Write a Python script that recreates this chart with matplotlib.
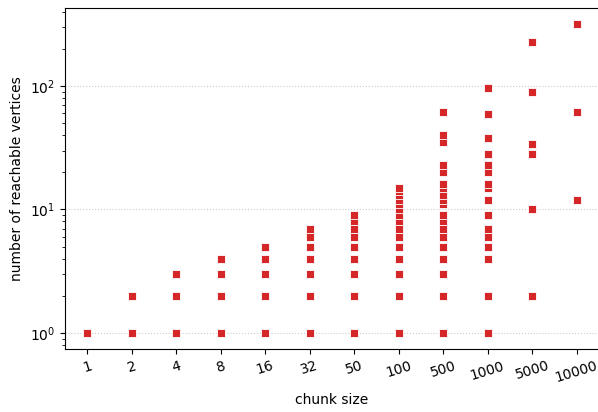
#!/usr/bin/env python3
# Reachable vertices per chunk size (log y, categorical x)

import numpy as np
import matplotlib as mpl
mpl.use('Agg')
import matplotlib.pyplot as plt

chunk_sizes = ['1', '2', '4', '8', '16', '32', '50', '100', '500', '1000', '5000', '10000']

reach_1 = [1]
reach_2 = [1, 2]
reach_4 = [1, 2, 3]
reach_8 = [1, 2, 3, 4]
reach_16 = [1, 2, 3, 4, 5]
reach_32 = [1, 2, 3, 4, 5, 6, 7]
reach_50 = [1, 2, 3, 4, 5, 6, 7, 8, 9]
reach_100 = [1, 2, 3, 4, 5, 6, 7, 8, 9, 10, 11, 12, 13, 14, 15]
reach_500 = [1, 2, 3, 4, 5, 6, 7, 8, 9, 11, 12, 13, 15, 16, 20, 23, 35, 40, 61]
reach_1000 = [1, 2, 4, 5, 6, 7, 9, 12, 15, 16, 20, 23, 28, 38, 59, 96]
reach_5000 = [2, 10, 28, 34, 89, 228]
reach_10000 = [12, 61, 318]

reach = [reach_1, reach_2, reach_4, reach_8, reach_16, reach_32, reach_50,
         reach_100, reach_500, reach_1000, reach_5000, reach_10000]

W, H = 598, 412
fig = plt.figure(figsize=(W/100, H/100), dpi=100)
# axes box in pixels: left 65, top 8, bottom 349, right ~599
ax = fig.add_axes([65/W, (H-349)/H, (598.75-65)/W, (349-8)/H])

for i, vals in enumerate(reach):
    ax.scatter(np.full(len(vals), i), vals, marker='s', s=32,
               color='#d62728', edgecolors='white', linewidths=0.6, zorder=3)

ax.set_yscale('log')
ax.set_ylim(0.742, 428)
ax.set_xlim(-0.5, 11.5)
ax.set_xticks(range(len(chunk_sizes)))
ax.set_xticklabels(chunk_sizes, rotation=17)
ax.grid(axis='y', which='major', linestyle=':', color='#cccccc', linewidth=0.8)
ax.spines['right'].set_visible(False)

ax.set_xlabel('chunk size', fontsize=10, labelpad=6)
ax.set_ylabel('number of reachable vertices', fontsize=10)
ax.tick_params(labelsize=10)

fig.savefig('out.png', dpi=100)
